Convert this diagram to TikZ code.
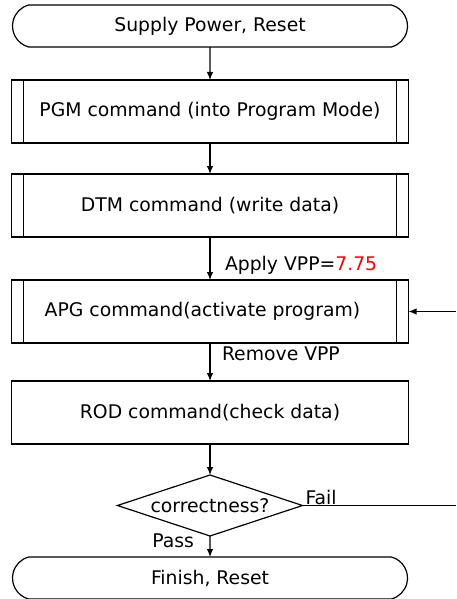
\documentclass[tikz,border=0pt]{standalone}
\usepackage{fontspec}
\setmainfont{DejaVu Sans}
\usetikzlibrary{positioning,shapes.geometric,shapes.misc,arrows.meta}

\begin{document}
\begin{tikzpicture}[x=1pt,y=-1pt,
  font=\fontsize{18.8}{22}\selectfont,
  line width=1.2pt,
  >={Latex[length=8pt,width=6.5pt]},
  every node/.style={outer sep=0pt},
  term/.style={draw,rounded rectangle,rounded rectangle arc length=150,minimum width=395pt,minimum height=42pt,inner sep=0pt},
  cmd/.style={draw,rectangle,minimum width=397pt,minimum height=63pt,inner sep=0pt},
  subcmd/.style={cmd,path picture={
    \draw ([xshift=12pt]path picture bounding box.north west) -- ([xshift=12pt]path picture bounding box.south west)
          ([xshift=-12pt]path picture bounding box.north east) -- ([xshift=-12pt]path picture bounding box.south east);}},
  check/.style={draw,diamond,aspect=3,minimum width=185pt,minimum height=61pt,inner sep=1pt},
  note/.style={inner sep=0pt}]
\useasboundingbox (0,0) rectangle (456,599);

\node[term] (start) at (210,26) {Supply Power, Reset};
\node[subcmd,below=33pt of start] (pgm) {PGM command (into Program Mode)};
\node[subcmd,below=31pt of pgm] (dtm) {DTM command (write data)};
\node[subcmd,below=43pt of dtm] (apg) {\hspace*{-15pt}APG command(activate program)};
\node[cmd,below=38pt of apg] (rod) {ROD command(check data)};
\node[check,below=31pt of rod] (chk) {correctness?};
\node[term,below=21pt of chk] (finish) {Finish, Reset};

%% loose ends at the right border
\coordinate (edge) at (456,0);

\draw[->] (start) -- (pgm);
\draw[->] (pgm) -- (dtm);
\draw[->] (dtm) -- (apg) node[note,pos=0.65,anchor=west,xshift=15pt]{Apply VPP=\textcolor{red}{7.75}};
\draw[->] (apg) -- (rod) node[note,pos=0.28,anchor=west,xshift=12pt]{Remove VPP};
\draw[->] (rod) -- (chk);
\draw[->] (chk) -- (finish) node[note,at start,anchor=north east,xshift=-16pt,yshift=2pt]{Pass};
\draw (chk.east) -- (chk.east -| edge) node[note,at start,anchor=south west,xshift=3pt,yshift=1pt]{Fail};
\draw[->] (apg.east -| edge) -- (apg.east);
\end{tikzpicture}
\end{document}
